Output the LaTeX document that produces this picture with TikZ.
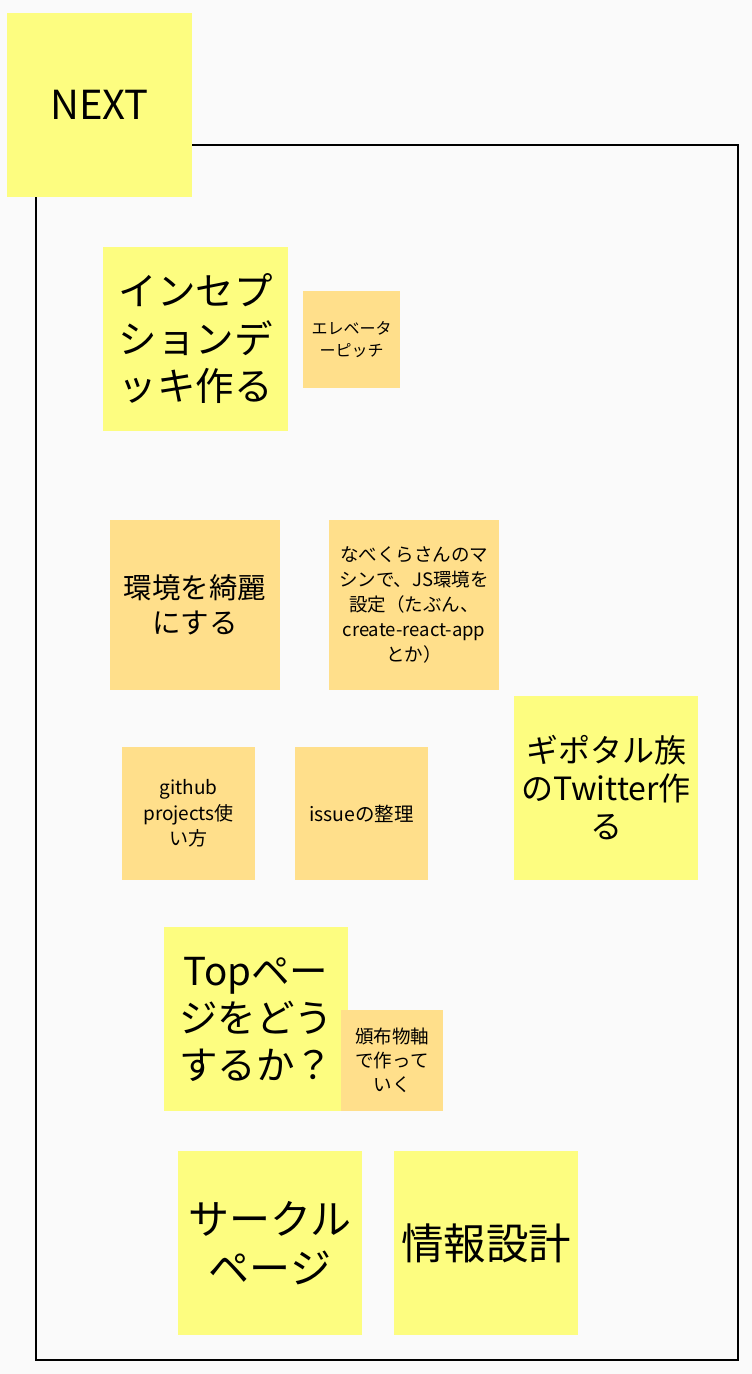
\documentclass[tikz,border=0pt]{standalone}
\usepackage{fontspec}
\setmainfont{Noto Sans CJK JP}
\newcommand{\nfs}[2]{\fontsize{#1pt}{#2pt}\selectfont}
\definecolor{bgc}{RGB}{250,250,250}
\definecolor{yel}{RGB}{253,253,128}
\definecolor{org}{RGB}{255,223,139}
\tikzset{
  note/.style={inner sep=0pt, outer sep=0pt, align=center, text=black},
  ynote/.style={note, fill=yel},
  onote/.style={note, fill=org},
}
\begin{document}
\begin{tikzpicture}[x=1pt,y=-1pt]
\fill[bgc] (0,0) rectangle (752,1374);
\useasboundingbox (0,0) rectangle (752,1374);
\node[draw=black, line width=2pt, minimum width=702pt, minimum height=1215pt, inner sep=0pt] (frame) at (387,752.5) {};
% NEXT
\node[ynote, minimum width=185pt, minimum height=184pt, font=\nfs{40}{46}] (next) at (99.5,105) {NEXT};
% inception deck
\node[ynote, minimum width=185pt, minimum height=184pt, font=\nfs{38.5}{47.5}] (incep) at (195.5,339) {インセプ\\ションデ\\ッキ作る};
\node[onote, minimum width=97pt, minimum height=97pt, font=\nfs{16}{22}] (elev) at (351.5,339.5) {エレベータ\\ーピッチ};
% environment
\node[onote, minimum width=170pt, minimum height=170pt, font=\nfs{28.5}{35}] (env) at (195,605) {環境を綺麗\\にする};
\node[onote, minimum width=170pt, minimum height=170pt, font=\nfs{18.5}{25}] (nabe) at (414,605) {なべくらさんのマ\\シンで、JS環境を\\設定（たぶん、\\create-react-app\\とか）};
% twitter
\node[ynote, minimum width=184pt, minimum height=184pt, font=\nfs{32}{38}] (tw) at (606,788) {ギポタル族\\のTwitter作\\る};
% github, issue
\node[onote, minimum width=133pt, minimum height=133pt, font=\nfs{19}{25.5}] (gh) at (188.5,813.5) {github\\projects使\\い方};
\node[onote, minimum width=133pt, minimum height=133pt, font=\nfs{19.5}{25}] (issue) at (361.5,813.5) {issueの整理};
% top page
\node[ynote, minimum width=184pt, minimum height=184pt, font=\nfs{38.5}{47}] (top) at (256,1019) {Topペー\\ジをどう\\するか？};
\node[onote, minimum width=102pt, minimum height=101pt, font=\nfs{18.5}{24}] (hanpu) at (392,1060.5) {頒布物軸\\で作って\\いく};
% bottom
\node[ynote, minimum width=184pt, minimum height=184pt, font=\nfs{41}{49}] (circle) at (270,1243) {サークル\\ページ};
\node[ynote, minimum width=184pt, minimum height=184pt, font=\nfs{42.5}{49}] (info) at (486,1243) {情報設計};
\end{tikzpicture}
\end{document}
